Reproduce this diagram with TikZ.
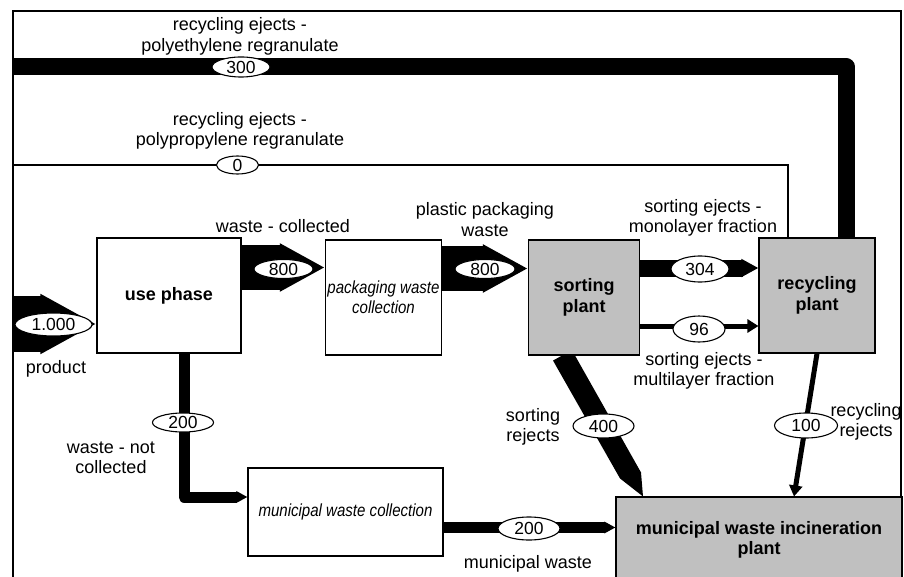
\documentclass[tikz,border=0pt]{standalone}
\usepackage{fontspec}
\setmainfont{Liberation Sans}
\newfontfamily\narrowit[FakeStretch=0.86,UprightFont=*,ItalicFont=* Italic]{Liberation Sans}
\usetikzlibrary{arrows.meta,calc,shapes.geometric}
\definecolor{boxgray}{RGB}{192,192,192}
\tikzset{
  proc/.style={draw=black, line width=1.1pt, rectangle, inner sep=2pt, align=center,
    font=\fontsize{18pt}{20.5pt}\selectfont\bfseries},
  procgray/.style={proc, fill=boxgray},
  coll/.style={draw=black, line width=1.1pt, rectangle, inner sep=2pt, align=center, fill=white,
    font=\narrowit\fontsize{17.5pt}{20pt}\selectfont\itshape},
  val/.style={ellipse, draw=black, line width=1.1pt, fill=white, inner sep=0pt,
    font=\fontsize{17.5pt}{20pt}\selectfont},
  lbl/.style={align=center, inner sep=0pt, font=\fontsize{18pt}{20.5pt}\selectfont},
  band/.style={line width=#1, line cap=butt, -{Triangle[length=0pt 1, width=0pt 1]}},
  thinflow/.style={line width=5pt, -{Triangle[length=11pt, width=13pt]}},
}
\begin{document}
\begin{tikzpicture}[x=1pt,y=-1pt]
\useasboundingbox (0,0) rectangle (904,577);
\clip (0,0) rectangle (904,577);
\fill[white] (0,0) rectangle (904,577);

% frame
\coordinate (ftl) at (13,11);
\coordinate (ftr) at (901,11);
\coordinate (fbl) at (13,585);
\coordinate (fbr) at (901,585);
\draw[line width=1.4pt] (fbl) -- (ftl) -- (ftr) -- (fbr);

% processes
\node[proc, minimum width=144pt, minimum height=115pt] (use) at (169,295.5) {use phase};
\node[coll, minimum width=115pt, minimum height=115pt] (pack) at (383.5,297.5) {packaging waste\\collection};
\node[procgray, minimum width=111pt, minimum height=115pt] (sort) at (584,297.5) {sorting\\plant};
\node[procgray, minimum width=116pt, minimum height=115pt] (recyc) at (817,295.5) {recycling\\plant};
\node[coll, minimum width=195pt, minimum height=88pt] (mwc) at (345.5,512) {municipal waste collection};
\node[procgray, minimum width=286pt, minimum height=86pt] (inc) at (759,540) {municipal waste incineration\\plant};

% flows
\coordinate (pin) at (13,324);
\draw[band=56pt] (pin) -- (pin -| use.west);

\coordinate (c1) at ($(use.east)+(0,-28)$);
\draw[band=45pt] (c1) -- (c1 -| pack.west);

\coordinate (c2) at ($(pack.east)+(0,-29)$);
\draw[band=45pt] (c2) -- (c2 -| sort.west);

\coordinate (c3) at ($(sort.east)+(0,-29.5)$);
\draw[band=17pt] (c3) -- (c3 -| recyc.west);

\coordinate (c4) at ($(sort.east)+(0,28.5)$);
\draw[thinflow] (c4) -- (c4 -| recyc.west);

\draw[thinflow] (recyc.south) -- ($(inc.north)+(35,0)$);

\fill ($(sort.south)+(-31,5)$) -- ($(sort.south)+(-22,0)$) -- ($(sort.south)+(-9,0)$)
  -- ($(inc.north)+(-118,-24)$) -- ($(inc.north)+(-116,0)$) -- ($(inc.north)+(-139,-18)$) -- cycle;

\draw[band=11pt, line join=round] ($(use.south)+(15,0)$) |- ($(mwc.west)+(0,-15)$);

\coordinate (c5) at ($(mwc.east)+(0,15.5)$);
\draw[band=11pt] (c5) -- (c5 -| inc.west);

\coordinate (c6) at (13,66.5);
\draw[line width=17pt, line join=round] ($(recyc.north)+(29,0)$) |- (c6);

\coordinate (c7) at (13,165);
\draw[line width=1.2pt] ($(recyc.north)+(-29,0)$) |- (c7);

% values
\node[val, minimum width=77pt, minimum height=23pt] (v1000) at (53.5,324.5) {1.000};
\node[val, minimum width=59pt, minimum height=19pt] (v800a) at (283.5,269) {800};
\node[val, minimum width=60pt, minimum height=19pt] (v800b) at (485,269) {800};
\node[val, minimum width=58pt, minimum height=26pt] (v304) at (700,269) {304};
\node[val, minimum width=52pt, minimum height=26pt] (v96) at (699,329) {96};
\node[val, minimum width=61pt, minimum height=24pt] (v400) at (603.5,426) {400};
\node[val, minimum width=63pt, minimum height=25pt] (v100) at (806,425.5) {100};
\node[val, minimum width=61pt, minimum height=19pt] (v200a) at (183,422.5) {200};
\node[val, minimum width=62pt, minimum height=23pt] (v200b) at (529,528.5) {200};
\node[val, minimum width=58pt, minimum height=20pt] (v300) at (241,67) {300};
\node[val, minimum width=42pt, minimum height=18pt] (v0) at (237.5,165) {0};

% labels
\node[lbl] (l300) at (240,36.5) {recycling ejects -\\polyethylene regranulate};
\node[lbl] (l0) at (240,131) {recycling ejects -\\polypropylene regranulate};
\node[lbl] (lwc) at (283,226) {waste - collected};
\node[lbl] (lppw) at (485,219.5) {plastic packaging\\waste};
\node[lbl] (lmono) at (703,218) {sorting ejects -\\monolayer fraction};
\node[lbl] (lmulti) at (704,371) {sorting ejects -\\multilayer fraction};
\node[lbl] (lprod) at (56,369) {product};
\node[lbl] (lwnc) at (111,458) {waste - not\\collected};
\node[lbl] (lsr) at (533,427) {sorting\\rejects};
\node[lbl] (lrr) at (866,422) {recycling\\rejects};
\node[lbl] (lmw) at (528,564) {municipal waste};
\end{tikzpicture}
\end{document}
